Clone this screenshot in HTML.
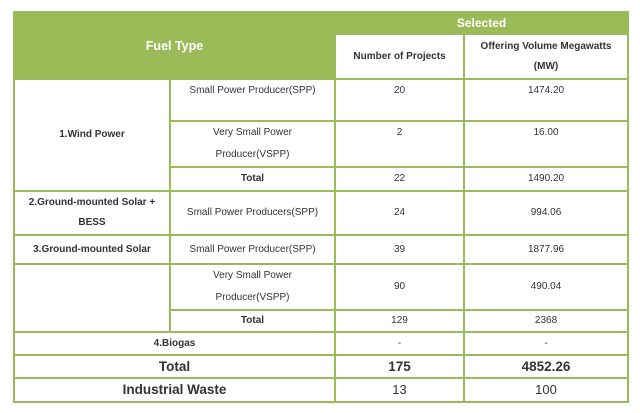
<!DOCTYPE html>
<html><head><meta charset="utf-8"><style>
html,body{margin:0;padding:0;width:640px;height:413px;background:#fff;overflow:hidden}
table{position:absolute;left:13px;top:11px;width:614px;border-collapse:collapse;table-layout:fixed;font-family:"Liberation Sans",sans-serif;font-size:10px;color:#333}
td,th{border:2px solid #9bbb59;text-align:center;padding:0 3px;line-height:14px}
th{font-weight:bold}
.hd{background:#9bbb59;color:#fff;border-color:#9bbb59}
.hd2{background:#fff;color:#333;font-weight:bold}
.b{font-weight:bold}
.big{font-weight:bold;font-size:13.5px}
.top{vertical-align:top;padding-top:4px}
.two{line-height:20px}
.v{line-height:22px}
</style></head><body>
<table>
<colgroup><col style="width:156px"><col style="width:165px"><col style="width:129px"><col style="width:164px"></colgroup>
<tr style="height:22px"><th class="hd" colspan="2" rowspan="2" style="font-size:12.5px">Fuel Type</th><th class="hd" colspan="2" style="font-size:12px">Selected</th></tr>
<tr style="height:45px"><th class="hd2">Number of Projects</th><th class="hd2 two">Offering Volume Megawatts (MW)</th></tr>
<tr style="height:42px"><td class="b" rowspan="3">1.Wind Power</td><td class="top">Small Power Producer(SPP)</td><td class="top">20</td><td class="top">1474.20</td></tr>
<tr style="height:44px"><td class="v">Very Small Power<br>Producer(VSPP)</td><td class="top">2</td><td class="top">16.00</td></tr>
<tr style="height:24px"><td class="b">Total</td><td>22</td><td>1490.20</td></tr>
<tr style="height:44px"><td class="b two">2.Ground-mounted Solar + BESS</td><td>Small Power Producers(SPP)</td><td>24</td><td>994.06</td></tr>
<tr style="height:29px"><td class="b">3.Ground-mounted Solar</td><td>Small Power Producer(SPP)</td><td>39</td><td>1877.96</td></tr>
<tr style="height:46px"><td rowspan="2"></td><td class="v">Very Small Power<br>Producer(VSPP)</td><td>90</td><td>490.04</td></tr>
<tr style="height:22px"><td class="b">Total</td><td>129</td><td>2368</td></tr>
<tr style="height:23px"><td class="b" colspan="2">4.Biogas</td><td>-</td><td>-</td></tr>
<tr style="height:23px"><td class="big" colspan="2">Total</td><td class="big">175</td><td class="big">4852.26</td></tr>
<tr style="height:24px"><td class="big" colspan="2">Industrial Waste</td><td style="font-size:13px">13</td><td style="font-size:13px">100</td></tr>
</table>
</body></html>
